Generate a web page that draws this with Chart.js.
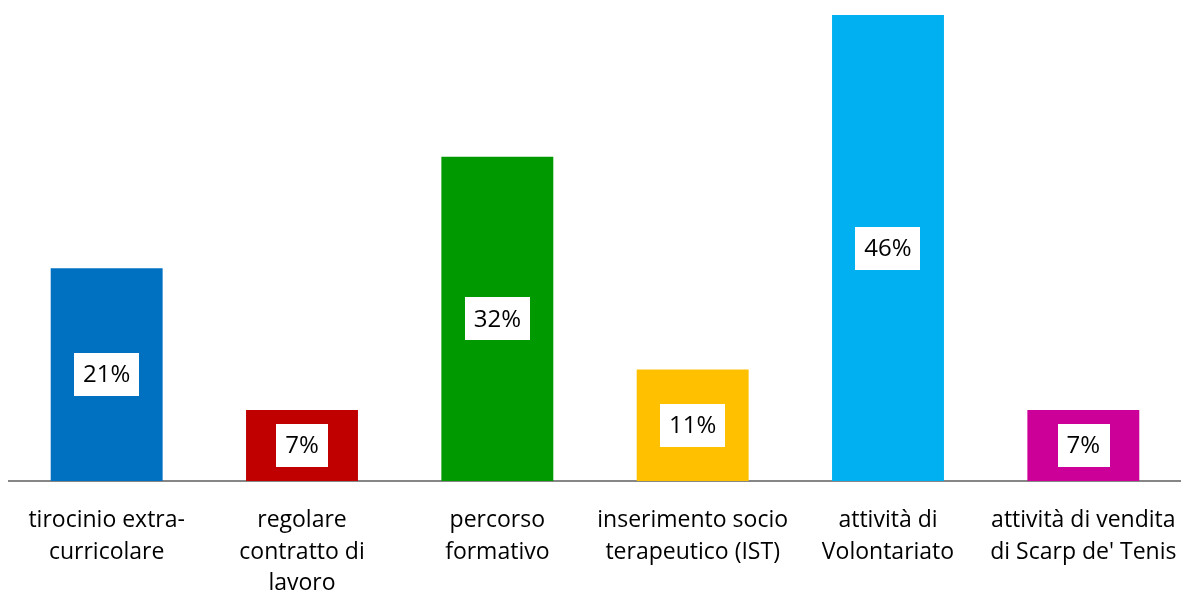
<!DOCTYPE html>
<html>
<head>
<meta charset="utf-8">
<script src="https://cdn.jsdelivr.net/npm/chart.js@4/dist/chart.umd.min.js"></script>
<style>
  html, body { margin: 0; padding: 0; background: #fff; }
  #wrap { width: 1181px; height: 592px; position: relative; }
</style>
</head>
<body>
<div id="wrap"><canvas id="chart"></canvas></div>
<script>
// categorie (già spezzate su più righe)
const categories = [
    ['tirocinio extra-', 'curricolare'],
    ['regolare', 'contratto di', 'lavoro'],
    ['percorso', 'formativo'],
    ['inserimento socio', 'terapeutico (IST)'],
    ['attività di', 'Volontariato'],
    ['attività di vendita', 'di Scarp de\' Tenis']
];
const percentages = [21, 7, 32, 11, 46, 7];
const barColors = ['#0070C0', '#C00000', '#009A00', '#FFC000', '#00B0F0', '#CC0099'];

const FONT = '"Open Sans", sans-serif';

// etichette bianche al centro di ogni barra
const boxLabels = {
    id: 'boxLabels',
    afterDatasetsDraw(chart) {
        const ctx = chart.ctx;
        const meta = chart.getDatasetMeta(0);
        ctx.save();
        ctx.font = '24px ' + FONT;
        ctx.textAlign = 'center';
        ctx.textBaseline = 'middle';
        meta.data.forEach((bar, i) => {
            const text = percentages[i] + '%';
            const w = ctx.measureText(text).width + 18;
            const h = 43;
            const cx = bar.x;
            const cy = (bar.y + bar.base) / 2;
            ctx.fillStyle = '#ffffff';
            ctx.fillRect(Math.round(cx - w / 2), Math.round(cy - h / 2), Math.round(w), h);
            ctx.fillStyle = '#000000';
            ctx.fillText(text, cx, cy + 1);
        });
        ctx.restore();
    }
};

new Chart(document.getElementById('chart'), {
    type: 'bar',
    data: {
        labels: categories,
        datasets: [{
            data: percentages,
            backgroundColor: barColors,
            barPercentage: 0.573,
            categoryPercentage: 1
        }]
    },
    options: {
        responsive: true,
        maintainAspectRatio: false,
        animation: false,
        layout: { padding: { left: 9, top: 15, right: 0, bottom: 0 } },
        plugins: { legend: { display: false }, tooltip: { enabled: false } },
        scales: {
            y: { display: false, min: 0, max: 46 },
            x: {
                grid: { display: false },
                border: { color: '#868686', width: 2 },
                ticks: {
                    color: '#000000',
                    font: { family: FONT, size: 23, lineHeight: 1.37 },
                    padding: 16,
                    maxRotation: 0,
                    autoSkip: false
                },
                afterFit(scale) {
                    scale.height = 111;
                    scale.paddingLeft = 0;
                    scale.paddingRight = 0;
                }
            }
        }
    },
    plugins: [boxLabels]
});
</script>
</body>
</html>
